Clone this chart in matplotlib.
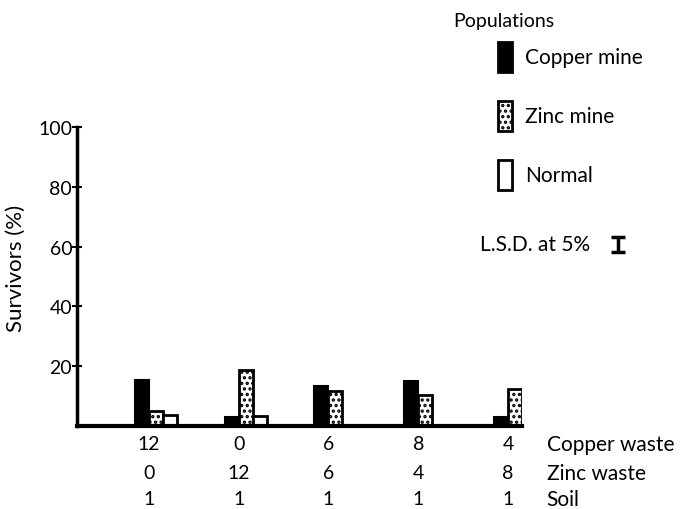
import matplotlib
matplotlib.use("Agg")
import matplotlib.pyplot as plt
import matplotlib.transforms as mtransforms
from matplotlib.patches import Rectangle
import numpy as np

plt.rcParams['font.family'] = ['Lato', 'DejaVu Sans']
plt.rcParams['hatch.linewidth'] = 1.6

# survivors (%) for each soil mixture
copper_mine = [15.3, 3.1, 13.4, 14.9, 3.1]
zinc_mine = [5.0, 18.8, 11.8, 10.4, 12.3]
normal = [3.8, 3.4, 0, 0, 0]

# soil mixtures under each group
copper_waste = [12, 0, 6, 8, 4]
zinc_waste = [0, 12, 6, 4, 8]
soil = [1, 1, 1, 1, 1]
row_names = ["Copper waste", "Zinc waste", "Soil"]

pop_names = ["Copper mine", "Zinc mine", "Normal"]
lsd = 5.0

W, H = 681, 510
fig = plt.figure(figsize=(W / 100, H / 100), dpi=100)
ax = fig.add_axes([77 / W, 83 / H, 445 / W, 299 / H])

x = np.arange(len(copper_mine))
bw = 0.156

ax.bar(x - bw / 2, copper_mine, bw, color="black", edgecolor="black", linewidth=1.5)
ax.bar(x + bw / 2, zinc_mine, bw, color="white", edgecolor="black", linewidth=2, hatch="...")
ax.bar(x + 1.5 * bw, normal, bw, color="white", edgecolor="black", linewidth=2)

ax.set_xlim(-0.8, 4 + bw)
ax.set_ylim(0, 100)
ax.set_yticks([20, 40, 60, 80, 100])
ax.tick_params(axis="y", direction="inout", length=7, width=1.5, labelsize=14, pad=0)
ax.set_xticks([])
for s in ["top", "right"]:
    ax.spines[s].set_visible(False)
ax.spines["left"].set_linewidth(2.5)
ax.spines["bottom"].set_linewidth(3)

ax.set_ylabel("Survivors (%)", fontsize=16)
ax.yaxis.set_label_coords(-0.116, 0.53)

# rows of soil mixture labels under the axis
trans = mtransforms.blended_transform_factory(ax.transData, ax.transAxes)
row_y = [-0.060, -0.157, -0.244]
for vals, yy, name in zip([copper_waste, zinc_waste, soil], row_y, row_names):
    for xi, v in zip(x, vals):
        ax.text(xi, yy, str(v), transform=trans, ha="center", va="center", fontsize=14)
    ax.text(4.43, yy, name, transform=trans, ha="left", va="center", fontsize=15)

# legend drawn by hand
def fx(px):
    return px / W

def fy(py):
    return 1 - py / H

fig.text(fx(453), fy(22), "Populations", ha="left", va="center", fontsize=14)
styles = [dict(facecolor="black"), dict(facecolor="white", hatch="..."), dict(facecolor="white")]
for name, st, cy in zip(pop_names, styles, [58, 117, 176]):
    fig.patches.append(Rectangle((fx(498), fy(cy + 15)), 14 / W, 30 / H, edgecolor="black",
                                 linewidth=2, transform=fig.transFigure, **st))
    fig.text(fx(525), fy(cy), name, ha="left", va="center", fontsize=15)

fig.text(fx(480), fy(245), "L.S.D. at 5%", ha="left", va="center", fontsize=15)
ax.errorbar(5.23, 60.7, yerr=lsd / 2, color="black", capsize=5, capthick=2.5,
            elinewidth=2.5, clip_on=False)

fig.savefig("out.png", dpi=100)
